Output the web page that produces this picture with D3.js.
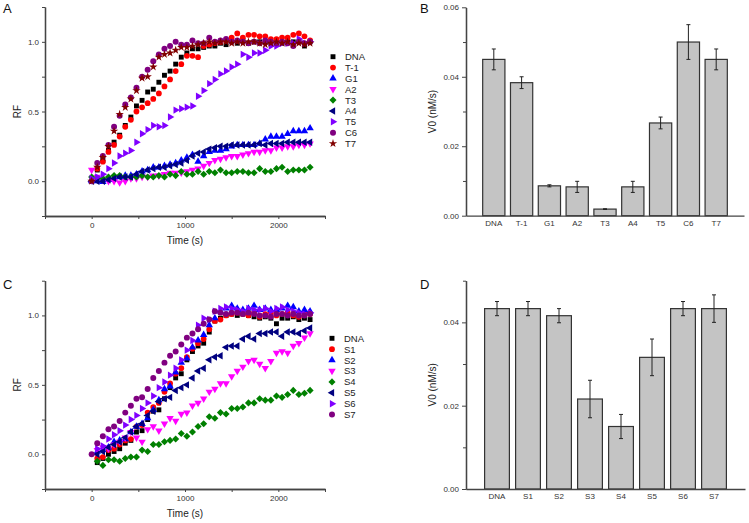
<!DOCTYPE html>
<html>
<head>
<meta charset="utf-8">
<script src="https://cdn.jsdelivr.net/npm/d3@7"></script>
<style>
body { margin: 0; background: #fff; }
</style>
</head>
<body>
<svg id="graph" width="749" height="523"></svg>
<script>
// sampling times (s), same for both kinetics panels
const time = [0,60,120,180,240,300,360,420,480,540,600,660,720,780,840,900,960,1020,1080,1140,
              1200,1260,1320,1380,1440,1500,1560,1620,1680,1740,1800,1860,1920,1980,2040,2100,2160,2220,2280,2340]

const timeDomain = [-500, 2500]
const timeTicks = [0, 1000, 2000]
const timeMinor = [-500, 500, 1500, 2500]
const rfDomain = [-0.25, 1.25]
const rfTicks = [0, 0.5, 1.0]
const rfMinor = [-0.25, 0.25, 0.75, 1.25]

// panel A : RF vs time
const namesA = ['DNA','T-1','G1','A2','T3','A4','T5','C6','T7']
const rfDNA_A = [0,0.08,0.15,0.22,0.28,0.33,0.40,0.46,0.54,0.58,0.64,0.66,0.71,0.76,0.79,0.84,0.89,0.92,0.95,0.95,
                 0.96,0.97,0.97,0.99,0.98,1.0,0.99,1.01,0.99,1.0,1.0,1.0,0.99,0.99,0.99,1.0,1.0,1.0,0.97,1.0]
const rfT1 = [0,0.09,0.14,0.21,0.26,0.32,0.39,0.44,0.50,0.53,0.56,0.59,0.63,0.68,0.73,0.79,0.84,0.90,0.90,0.89,
              0.97,0.98,0.99,1.0,1.01,1.03,1.06,1.03,1.05,1.05,1.04,1.04,1.02,1.02,1.03,1.03,1.05,1.06,1.04,1.01]
const rfG1 = [0,0,-0.005,0.01,0.02,0.03,0.04,0.04,0.05,0.07,0.08,0.10,0.10,0.11,0.12,0.13,0.15,0.17,0.19,0.14,
              0.18,0.21,0.22,0.22,0.23,0.25,0.26,0.26,0.26,0.26,0.27,0.30,0.32,0.32,0.32,0.34,0.36,0.36,0.36,0.38]
const rfA2 = [0.08,0.03,0.01,0,0,-0.01,0,0.02,0.02,0.03,0.03,0.04,0.04,0.05,0.06,0.06,0.06,0.07,0.08,0.09,
              0.11,0.13,0.15,0.16,0.17,0.18,0.18,0.19,0.20,0.21,0.21,0.22,0.22,0.24,0.24,0.25,0.25,0.26,0.26,0.27]
const rfT3 = [0.03,0.02,0.02,0.03,0.04,0.04,0.03,0.03,0.03,0.04,0.03,0.03,0.04,0.03,0.05,0.04,0.07,0.05,0.05,0.07,
              0.05,0.07,0.06,0.08,0.06,0.06,0.07,0.07,0.06,0.06,0.09,0.07,0.07,0.09,0.10,0.07,0.08,0.08,0.08,0.10]
const rfA4 = [0,0,0,0.01,0.02,0.03,0.03,0.03,0.05,0.07,0.08,0.09,0.10,0.10,0.11,0.12,0.13,0.15,0.18,0.20,
              0.21,0.23,0.24,0.25,0.25,0.26,0.26,0.26,0.26,0.26,0.27,0.26,0.27,0.27,0.27,0.28,0.28,0.28,0.28,0.28]
const rfT5 = [0.02,0.03,0.05,0.09,0.13,0.18,0.20,0.22,0.28,0.34,0.37,0.40,0.39,0.40,0.46,0.51,0.52,0.53,0.54,0.61,
              0.65,0.70,0.73,0.77,0.79,0.82,0.84,0.91,0.89,0.92,0.92,0.94,0.97,0.97,0.99,0.99,0.99,1.02,0.99,1.0]
const rfC6 = [0,0.13,0.18,0.26,0.39,0.47,0.55,0.60,0.67,0.75,0.80,0.86,0.91,0.95,0.97,1.0,0.98,0.98,1.01,0.99,
              0.99,1.03,1.0,1.01,1.02,1.0,1.01,1.0,0.99,1.0,0.99,1.01,1.0,0.99,1.0,0.99,0.97,1.0,0.99,1.0]
const rfT7 = [0,0.10,0.17,0.25,0.36,0.48,0.53,0.59,0.65,0.74,0.75,0.82,0.89,0.91,0.92,0.94,0.96,0.96,0.97,0.98,
              0.99,1.0,0.99,1.0,1.0,0.99,1.0,0.99,1.0,1.0,0.99,0.98,0.99,1.0,0.99,1.0,0.98,0.99,0.98,0.99]

// panel C : RF vs time (most series start at 60 s)
const namesC = ['DNA','S1','S2','S3','S4','S5','S6','S7']
const rfDNA_C = [null,-0.06,-0.03,0,0.02,0.04,0.08,0.10,0.16,0.17,0.25,0.31,0.32,0.40,0.48,0.55,0.58,0.68,0.74,0.78,
                 0.80,0.88,0.96,0.98,1.0,1.01,1.0,1.01,1.0,0.99,0.98,0.99,0.98,0.94,0.98,0.98,0.99,0.97,0.98,0.97]
const rfS1 = [null,-0.03,-0.02,0.03,0.04,0.07,0.10,0.11,0.20,0.21,0.30,0.34,0.37,0.45,0.51,0.58,0.62,0.70,0.76,0.80,
              0.83,0.90,0.96,0.97,1.0,1.01,1.02,1.01,1.0,1.02,0.99,1.01,1.02,1.0,1.01,1.02,1.0,0.99,1.02,1.01]
const rfS2 = [null,0.02,0.03,0.05,0.09,0.10,0.11,0.16,0.20,0.22,0.26,0.32,0.39,0.47,0.49,0.59,0.66,0.69,0.77,0.82,
              0.86,0.93,0.98,1.03,1.05,1.07,1.05,1.04,1.05,1.07,1.04,1.05,1.04,1.04,1.05,1.07,1.06,1.03,1.04,1.03]
const rfS3 = [null,0.03,0.05,0.04,0.07,0.09,0.12,0.16,0.12,0.09,0.18,0.20,0.17,0.22,0.26,0.24,0.29,0.30,0.35,0.37,
              0.40,0.45,0.47,0.51,0.51,0.56,0.60,0.63,0.67,0.68,0.65,0.62,0.67,0.73,0.74,0.73,0.78,0.80,0.84,0.87]
const rfS4 = [null,-0.05,-0.08,-0.04,-0.04,-0.05,-0.03,-0.02,-0.02,0.03,0.02,0.07,0.07,0.09,0.10,0.11,0.15,0.13,0.16,0.20,
              0.22,0.27,0.26,0.30,0.29,0.33,0.33,0.34,0.37,0.37,0.40,0.39,0.39,0.42,0.41,0.43,0.46,0.43,0.44,0.46]
const rfS5 = [null,0,0.02,0.05,0.07,0.09,0.12,0.16,0.20,0.22,0.28,0.31,0.38,0.40,0.41,0.46,0.48,0.50,0.55,0.60,
              0.62,0.68,0.70,0.71,0.77,0.78,0.78,0.83,0.85,0.83,0.87,0.87,0.88,0.88,0.85,0.88,0.88,0.87,0.89,0.91]
const rfS6 = [null,0.04,0.06,0.11,0.14,0.17,0.21,0.25,0.28,0.33,0.37,0.42,0.48,0.52,0.57,0.62,0.68,0.75,0.82,0.93,
              0.98,0.97,1.03,1.05,1.06,1.05,1.04,1.03,1.05,1.04,1.04,1.05,1.03,1.05,1.06,1.04,1.03,1.02,1.01,1.02]
const rfS7 = [0,0.08,0.13,0.18,0.20,0.24,0.30,0.35,0.40,0.41,0.47,0.55,0.60,0.66,0.71,0.74,0.79,0.84,0.87,0.90,
              0.94,0.97,1.03,1.02,1.01,1.02,1.02,1.01,1.02,1.01,1.0,1.0,0.99,1.01,1.01,1.0,1.01,1.0,1.0,1.01]

// panel B : initial rates
const catsB = ['DNA','T-1','G1','A2','T3','A4','T5','C6','T7']
const v0B = [0.045,0.0383,0.0086,0.0083,0.0019,0.0083,0.0267,0.050,0.045]
const errB = [0.003,0.0017,0.0003,0.0016,0.0001,0.0016,0.0017,0.005,0.003]
const ticksB = [0,0.02,0.04,0.06]
const minorB = [0.01,0.03,0.05]

// panel D : initial rates
const catsD = ['DNA','S1','S2','S3','S4','S5','S6','S7']
const v0D = [0.0433,0.0433,0.0416,0.0216,0.0150,0.0316,0.0433,0.0433]
const errD = [0.0017,0.0017,0.0017,0.0045,0.0029,0.0044,0.0017,0.0033]
const ticksD = [0,0.02,0.04]
const minorD = [0.01,0.03,0.05]

///////////////////////////////////////////////////

const svg = d3.select('#graph')
const font = 'Liberation Sans, Arial, sans-serif'
const axisColor = '#444'

const colors = ['#000000','#FF0000','#0000FF','#FF00FF','#008000','#000080','#8000FF','#800080','#800000']
// the "diamond" is drawn as a square turned by 45 degrees
const symbols = [
  {type: d3.symbolSquare,   rot: 0,   size: 24},
  {type: d3.symbolCircle,   rot: 0,   size: 26},
  {type: d3.symbolTriangle, rot: 0,   size: 24},
  {type: d3.symbolTriangle, rot: 180, size: 24},
  {type: d3.symbolSquare,   rot: 45,  size: 25},
  {type: d3.symbolTriangle, rot: -90, size: 24},
  {type: d3.symbolTriangle, rot: 90,  size: 24},
  {type: d3.symbolCircle,   rot: 0,   size: 28},
  {type: d3.symbolStar,     rot: 0,   size: 22}
]

const styleAxis = (g) => {
  g.select('.domain').attr('stroke', axisColor).attr('stroke-width', 1.3)
  g.selectAll('.tick line').attr('stroke', axisColor).attr('stroke-width', 1)
  g.selectAll('text').attr('font-family', font).attr('font-size', 8).attr('fill', '#333')
}

const panelLetter = (txt, x, y) => {
  svg.append('text').attr('x', x).attr('y', y).text(txt)
     .attr('font-family', font).attr('font-size', 13).attr('fill', '#111')
}

const drawKinetics = (box, names, values, legend) => {
  const x = d3.scaleLinear().domain(timeDomain).range([box.left, box.right])
  const y = d3.scaleLinear().domain(rfDomain).range([box.bottom, box.top])

  svg.append('g').attr('transform', `translate(0,${box.bottom})`)
     .call(d3.axisBottom(x).tickValues(timeMinor).tickFormat('').tickSize(3).tickSizeOuter(0)).call(styleAxis)
  svg.append('g').attr('transform', `translate(0,${box.bottom})`)
     .call(d3.axisBottom(x).tickValues(timeTicks).tickFormat(d3.format('d')).tickSize(3).tickSizeOuter(0)).call(styleAxis)
  svg.append('g').attr('transform', `translate(${box.left},0)`)
     .call(d3.axisLeft(y).tickValues(rfMinor).tickFormat('').tickSize(3).tickSizeOuter(0)).call(styleAxis)
  svg.append('g').attr('transform', `translate(${box.left},0)`)
     .call(d3.axisLeft(y).tickValues(rfTicks).tickFormat(d3.format('.1f')).tickSize(3).tickSizeOuter(0)).call(styleAxis)

  svg.append('text').text('Time (s)')
     .attr('x', (x(0) + x(2000)) / 2).attr('y', box.bottom + 28)
     .attr('text-anchor', 'middle').attr('font-family', font).attr('font-size', 10).attr('fill', '#222')
  svg.append('text').text('RF')
     .attr('transform', `translate(${box.left - 24},${(box.top + box.bottom) / 2}) rotate(-90)`)
     .attr('text-anchor', 'middle').attr('font-family', font).attr('font-size', 10).attr('fill', '#222')

  values.forEach((vals, i) => {
    const sym = symbols[i]
    const pts = time.map((t, j) => ({t: t, v: vals[j]})).filter(d => d.v !== null)
    svg.append('g').selectAll('path').data(pts).enter().append('path')
       .attr('transform', d => `translate(${x(d.t)},${y(d.v)}) rotate(${sym.rot})`)
       .attr('d', d3.symbol(sym.type, sym.size))
       .attr('fill', colors[i])
  })

  // legend
  names.forEach((n, i) => {
    const sym = symbols[i]
    const ly = legend.y + i * legend.step
    svg.append('path')
       .attr('transform', `translate(${legend.x},${ly}) rotate(${sym.rot})`)
       .attr('d', d3.symbol(sym.type, sym.size))
       .attr('fill', colors[i])
    svg.append('text').text(n)
       .attr('x', legend.x + 12).attr('y', ly).attr('dy', '0.36em')
       .attr('font-family', font).attr('font-size', 9.5).attr('fill', '#222')
  })
}

const drawBars = (box, cats, vals, errs, yDomain, ticks, minor) => {
  const x = d3.scaleLinear().domain([0, cats.length + 1]).range([box.left, box.right])
  const y = d3.scaleLinear().domain(yDomain).range([box.bottom, box.top])
  const bw = x(0.8) - x(0)

  svg.append('g').selectAll('rect').data(vals).enter().append('rect')
     .attr('x', (d, i) => x(i + 1) - bw / 2)
     .attr('y', d => y(d))
     .attr('width', bw)
     .attr('height', d => y(0) - y(d))
     .attr('fill', '#C4C4C4').attr('stroke', '#333').attr('stroke-width', 1.2)

  const eb = svg.append('g').selectAll('g').data(vals).enter().append('g')
  eb.append('line')
    .attr('x1', (d, i) => x(i + 1)).attr('x2', (d, i) => x(i + 1))
    .attr('y1', (d, i) => y(d + errs[i])).attr('y2', (d, i) => y(d - errs[i]))
    .attr('stroke', '#222').attr('stroke-width', 1)
  ;[1, -1].forEach(s => {
    eb.append('line')
      .attr('x1', (d, i) => x(i + 1) - 2).attr('x2', (d, i) => x(i + 1) + 2)
      .attr('y1', (d, i) => y(d + s * errs[i])).attr('y2', (d, i) => y(d + s * errs[i]))
      .attr('stroke', '#222').attr('stroke-width', 1)
  })

  svg.append('g').attr('transform', `translate(0,${box.bottom})`)
     .call(d3.axisBottom(x).tickValues([]).tickSizeOuter(0)).call(styleAxis)
  svg.append('g').attr('transform', `translate(${box.left},0)`)
     .call(d3.axisLeft(y).tickValues(minor).tickFormat('').tickSize(3).tickSizeOuter(0)).call(styleAxis)
  svg.append('g').attr('transform', `translate(${box.left},0)`)
     .call(d3.axisLeft(y).tickValues(ticks).tickFormat(d3.format('.2f')).tickSize(4).tickSizeOuter(0)).call(styleAxis)

  svg.append('g').selectAll('text').data(cats).enter().append('text')
     .text(d => d)
     .attr('x', (d, i) => x(i + 1)).attr('y', box.bottom + 10)
     .attr('text-anchor', 'middle').attr('font-family', font).attr('font-size', 8).attr('fill', '#333')

  svg.append('text').text('V0 (nM/s)')
     .attr('transform', `translate(${box.left - 30},${(box.top + box.bottom) / 2}) rotate(-90)`)
     .attr('text-anchor', 'middle').attr('font-family', font).attr('font-size', 10).attr('fill', '#222')
}

drawKinetics({left: 45, right: 325, top: 7, bottom: 216}, namesA,
  [rfDNA_A, rfT1, rfG1, rfA2, rfT3, rfA4, rfT5, rfC6, rfT7], {x: 333, y: 56.7, step: 10.85})
drawKinetics({left: 45, right: 325, top: 280.7, bottom: 489}, namesC,
  [rfDNA_C, rfS1, rfS2, rfS3, rfS4, rfS5, rfS6, rfS7], {x: 332, y: 338.3, step: 10.9})

drawBars({left: 466, right: 744, top: 7.3, bottom: 215.7}, catsB, v0B, errB, [0, 0.06], ticksB, minorB)
drawBars({left: 466, right: 745, top: 280.7, bottom: 489}, catsD, v0D, errD, [0, 0.05], ticksD, minorD)

panelLetter('A', 3, 13)
panelLetter('B', 420, 13)
panelLetter('C', 3, 288.5)
panelLetter('D', 420, 289)
</script>
</body>
</html>
